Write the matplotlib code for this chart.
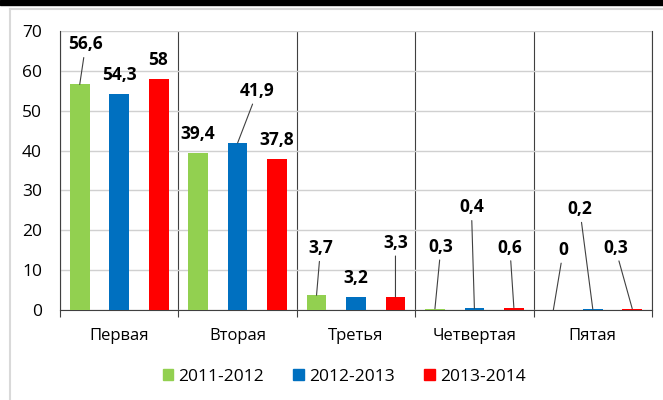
import numpy as np
import matplotlib
matplotlib.use("Agg")
import matplotlib.pyplot as plt
from matplotlib.patches import Patch, Rectangle
from matplotlib.lines import Line2D

plt.rcParams['font.family'] = ['Open Sans', 'DejaVu Sans']

# data
categories = ["Первая", "Вторая", "Третья", "Четвертая", "Пятая"]
series_names = ["2011-2012", "2012-2013", "2013-2014"]
v_2011 = [56.6, 39.4, 3.7, 0.3, 0.0]
v_2012 = [54.3, 41.9, 3.2, 0.4, 0.2]
v_2013 = [58.0, 37.8, 3.3, 0.6, 0.3]
labels_2011 = ["56,6", "39,4", "3,7", "0,3", "0"]
labels_2012 = ["54,3", "41,9", "3,2", "0,4", "0,2"]
labels_2013 = ["58", "37,8", "3,3", "0,6", "0,3"]
y_ticks = [0, 10, 20, 30, 40, 50, 60, 70]

colors = ["#92d050", "#0070c0", "#ff0000"]

# label placement (pixel offsets from bar top) and whether a leader line is drawn
offsets = [
    [(6, 40, True), (0, 19, False), (4, 47, True), (6, 62, True), (10, 60, True)],
    [(0, 19, False), (20, 52, True), (0, 19, False), (-3, 101, True), (-13, 100, True)],
    [(-1, 19, False), (0, 19, False), (0, 54, True), (-4, 60, True), (-17, 61, True)],
]

fig = plt.figure(figsize=(6.63, 4.0), dpi=100)
ax = fig.add_axes([60 / 663, 1 - 310 / 400, 592 / 663, 279 / 400])

x = np.arange(len(categories))
w = 1 / 6
all_vals = [v_2011, v_2012, v_2013]
all_labels = [labels_2011, labels_2012, labels_2013]
for i, (vals, labs) in enumerate(zip(all_vals, all_labels)):
    xs = x + (i - 1) / 3
    ax.bar(xs, vals, width=w, color=colors[i], zorder=3)
    for j in range(len(xs)):
        dx, dy, leader = offsets[i][j]
        props = None
        if leader:
            props = dict(arrowstyle="-", color="#404040", lw=0.8,
                         shrinkA=1, shrinkB=0)
        ax.annotate(labs[j], xy=(xs[j], vals[j]), xytext=(dx, dy),
                    textcoords="offset pixels", ha="center", va="center",
                    fontsize=12.5, fontweight="bold", color="black",
                    arrowprops=props, zorder=5)

ax.set_xlim(-0.5, 4.5)
ax.set_ylim(0, 70)
ax.set_yticks(y_ticks)
ax.set_xticks(x)
ax.set_xticklabels(categories)
ax.set_xticks(np.arange(-0.5, 5, 1), minor=True)

ax.tick_params(axis="y", length=0, pad=13, labelsize=12.5, colors="black")
ax.tick_params(axis="x", which="major", length=0, pad=13, labelsize=12)
ax.tick_params(axis="x", which="minor", length=5, width=0.8, direction="out", color="#404040")

ax.grid(axis="y", color="#d0d0d0", lw=1.0, zorder=0)
ax.grid(axis="x", which="minor", color="#404040", lw=0.8, zorder=1)
ax.grid(axis="x", which="major", visible=False)

ax.spines["top"].set_visible(False)
for s in ["left", "bottom", "right"]:
    ax.spines[s].set_color("#404040")
    ax.spines[s].set_linewidth(0.8)

handles = [Patch(color=c) for c in colors]
fig.legend(handles, series_names, loc="center", bbox_to_anchor=(0.519, 1 - 377 / 400),
           ncol=3, frameon=False, fontsize=12.5, handlelength=0.6, handleheight=0.6,
           handletextpad=0.3, columnspacing=1.7)

# outer frame pieces
fig.add_artist(Rectangle((0, 1 - 5 / 400), 1, 5 / 400, transform=fig.transFigure,
                         color="black", zorder=10))
fig.add_artist(Line2D([9.5 / 663, 9.5 / 663], [0, 1 - 9 / 400], transform=fig.transFigure,
                      color="#d9d9d9", lw=1.5))
fig.add_artist(Line2D([9.5 / 663, 1], [1 - 9 / 400, 1 - 9 / 400], transform=fig.transFigure,
                      color="#d9d9d9", lw=1.5))

fig.savefig("out.png", dpi=100)
